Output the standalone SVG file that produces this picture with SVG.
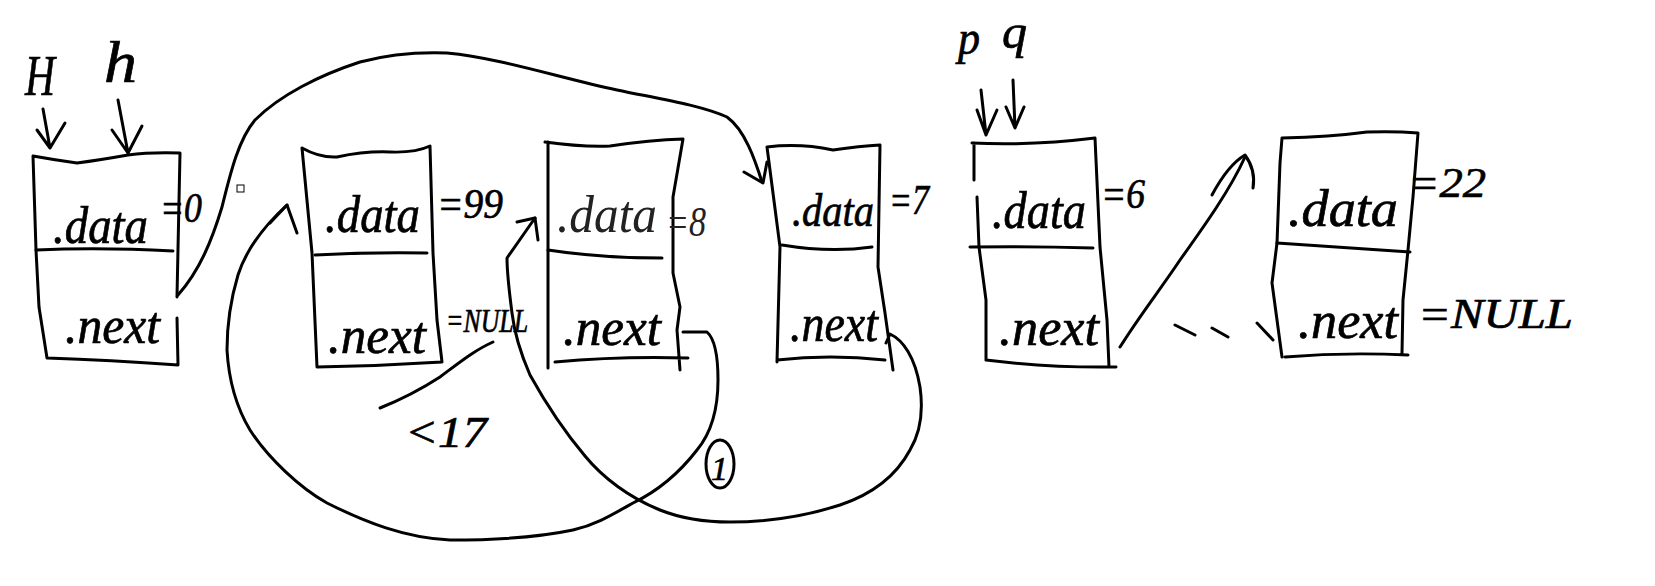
<svg xmlns="http://www.w3.org/2000/svg" width="1655" height="586" viewBox="0 0 1655 586">
<style>
.bg{fill:#fff}
.ln{fill:none;stroke:#000;stroke-width:3;stroke-linecap:round;stroke-linejoin:round}
.thin{fill:none;stroke:#000;stroke-width:1}
.hw{font-family:"Liberation Serif",serif;font-style:italic;fill:#000;stroke:#000;stroke-width:0.7}
.hwl{font-family:"Liberation Serif",serif;font-style:italic;fill:#222;stroke:none}
.d{font-size:52px}
.v{font-size:42px}
</style>
<rect class="bg" x="0" y="0" width="1655" height="586"/>

<g id="ptr-H">
<text class="hw" x="25" y="95" font-size="58" textLength="30" lengthAdjust="spacingAndGlyphs">H</text>
<path class="ln" d="M43,109 L50,148 M37,130 L50,148 L65,123"/>
</g>
<g id="ptr-h">
<text class="hw" x="104" y="82" font-size="60" textLength="33" lengthAdjust="spacingAndGlyphs">h</text>
<path class="ln" d="M118,100 L128,153 M112,130 L128,153 L142,126"/>
</g>
<g id="ptr-p">
<text class="hw" x="958" y="54" font-size="48" textLength="22" lengthAdjust="spacingAndGlyphs">p</text>
<path class="ln" d="M981,90 L986,135 M977,110 L986,135 L997,110"/>
</g>
<g id="ptr-q">
<text class="hw" x="1002" y="48" font-size="48" textLength="25" lengthAdjust="spacingAndGlyphs">q</text>
<path class="ln" d="M1013,80 L1015,128 M1006,107 L1015,128 L1024,107"/>
</g>

<g id="node1">
<path class="ln" d="M33,156 Q55,160 77,163 Q100,160 128,155 Q150,152 180,153 L177,297 M177,318 L178,365 Q110,360 47,358 L39,307 L36,250 L33,156"/>
<path class="ln" d="M36,250 Q100,247 173,251"/>
<text class="hw d" x="53" y="243" textLength="95" lengthAdjust="spacingAndGlyphs">.data</text>
<text class="hw v" x="160" y="222" textLength="42" lengthAdjust="spacingAndGlyphs">=0</text>
<text class="hw d" x="65" y="343" textLength="95" lengthAdjust="spacingAndGlyphs">.next</text>
</g>

<g id="node2">
<path class="ln" d="M302,148 Q320,158 337,157 Q365,151 390,152 Q415,153 430,146 L433,253 L437,320 L442,362 Q380,366 317,367 L312,253 L302,148"/>
<path class="ln" d="M315,255 Q370,252 427,253"/>
<text class="hw d" x="325" y="232" textLength="95" lengthAdjust="spacingAndGlyphs">.data</text>
<text class="hw v" x="437" y="218" textLength="66" lengthAdjust="spacingAndGlyphs">=99</text>
<text class="hw d" x="328" y="353" textLength="98" lengthAdjust="spacingAndGlyphs">.next</text>
<text class="hw" x="446" y="332" font-size="34" textLength="82" lengthAdjust="spacingAndGlyphs">=NULL</text>
</g>

<g id="node3">
<path class="ln" d="M545,142 Q580,147 610,146 Q650,140 683,139 L673,197 L673,273 L680,307 L677,330 L680,370 M548,142 L548,368 M555,362 Q620,356 688,358"/>
<path class="ln" d="M548,250 Q600,258 662,258"/>
<text class="hwl d" x="557" y="232" textLength="100" lengthAdjust="spacingAndGlyphs">.data</text>
<text class="hwl v" x="666" y="236" textLength="40" lengthAdjust="spacingAndGlyphs">=8</text>
<text class="hw d" x="563" y="345" textLength="98" lengthAdjust="spacingAndGlyphs">.next</text>
</g>

<g id="node4">
<path class="ln" d="M767,147 Q800,143 833,150 Q860,146 880,145 L878,267 L885,313 L893,370 M767,147 L780,247 L777,362 M777,360 Q830,354 885,360"/>
<path class="ln" d="M782,245 Q830,253 872,247"/>
<text class="hw" x="792" y="226" font-size="46" textLength="82" lengthAdjust="spacingAndGlyphs">.data</text>
<text class="hw v" x="889" y="214" textLength="40" lengthAdjust="spacingAndGlyphs">=7</text>
<text class="hw d" x="790" y="341" textLength="88" lengthAdjust="spacingAndGlyphs">.next</text>
</g>

<g id="node5">
<path class="ln" d="M972,143 Q1030,146 1095,138 L1100,247 L1107,320 L1109,367 M974,143 L974,180 M977,197 L979,247 L986,300 L986,360 M986,360 Q1050,368 1116,367"/>
<path class="ln" d="M970,247 Q1030,246 1093,248"/>
<text class="hw d" x="992" y="228" textLength="94" lengthAdjust="spacingAndGlyphs">.data</text>
<text class="hw v" x="1101" y="208" textLength="44" lengthAdjust="spacingAndGlyphs">=6</text>
<text class="hw d" x="999" y="345" textLength="100" lengthAdjust="spacingAndGlyphs">.next</text>
</g>

<g id="node6">
<path class="ln" d="M1282,138 Q1330,137 1367,132 Q1395,131 1418,133 L1413,197 L1408,250 L1403,300 L1402,353 M1282,138 L1280,163 L1277,243 L1272,283 L1282,357 M1285,357 Q1345,352 1408,355"/>
<path class="ln" d="M1277,243 Q1340,247 1410,252"/>
<text class="hw d" x="1288" y="226" textLength="110" lengthAdjust="spacingAndGlyphs">.data</text>
<text class="hw v" x="1408" y="197" textLength="78" lengthAdjust="spacingAndGlyphs">=22</text>
<text class="hw d" x="1298" y="338" textLength="100" lengthAdjust="spacingAndGlyphs">.next</text>
<text class="hw v" x="1418" y="328" textLength="155" lengthAdjust="spacingAndGlyphs">=NULL</text>
</g>

<g id="connectors">
<path class="ln" d="M178,295 C200,270 212,240 222,207 C230,175 238,140 255,120 C280,95 320,75 360,62 C390,54 420,52 447,53 C500,58 560,78 617,90 C660,99 700,105 727,117 C745,130 755,160 762,182"/>
<path class="ln" d="M744,172 L763,183 L767,162"/>
<path class="ln" d="M683,332 L707,332 C716,340 718,360 718,380 C718,410 712,432 697,450 C680,472 660,490 633,503 C610,516 595,525 573,530 C540,537 500,540 450,540 C405,538 365,522 327,503 C300,488 268,458 250,430 C238,410 229,385 227,350 C227,320 232,295 238,275 C246,250 262,228 287,205"/>
<path class="ln" d="M270,223 L287,205 L297,233"/>
<path class="ln" d="M886,343 L890,334 C903,340 915,357 920,387 C924,415 919,435 910,450 C895,478 870,495 840,505 C800,518 760,522 730,522 C700,522 680,518 660,510 C630,498 603,478 585,456 C563,430 545,402 530,375 C520,352 514,330 512,313 C509,290 507,270 507,258 L535,218"/>
<path class="ln" d="M517,222 L535,218 L538,240"/>
<path class="ln" d="M1120,347 C1140,315 1160,290 1180,260 C1205,225 1230,190 1245,157"/>
<path class="ln" d="M1212,195 Q1228,165 1245,155 Q1256,170 1253,188"/>
<path class="ln" d="M1175,325 L1195,335 M1212,328 L1228,337 M1257,323 L1273,340"/>
<path class="ln" d="M380,408 C400,400 420,390 440,377 C460,362 475,350 493,342"/>
</g>

<g id="notes">
<text class="hw" x="405" y="447" font-size="44" textLength="82" lengthAdjust="spacingAndGlyphs">&lt;17</text>
<ellipse class="ln" cx="720" cy="464" rx="14" ry="24"/>
<text class="hw" x="711" y="480" font-size="34">1</text>
<rect class="thin" x="237" y="185" width="7" height="7"/>
</g>
</svg>
